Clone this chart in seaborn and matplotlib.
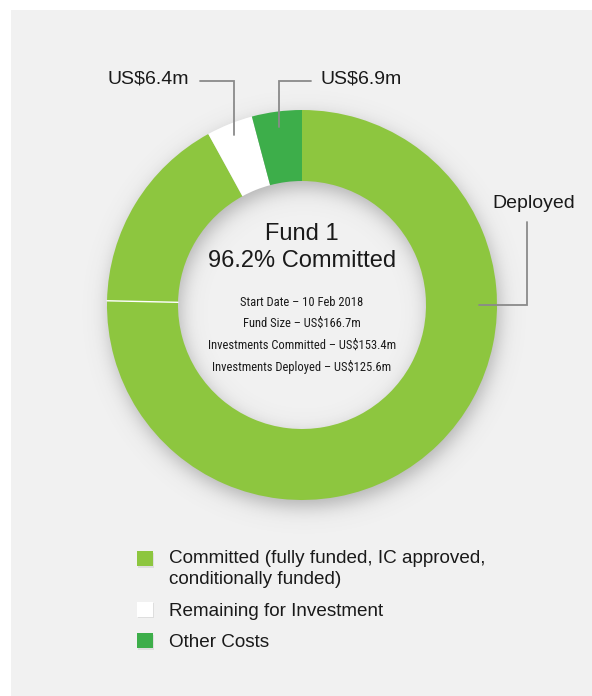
import numpy as np
import matplotlib
matplotlib.use("Agg")
import matplotlib.pyplot as plt
import matplotlib.patheffects as pe
import seaborn as sns
from matplotlib.patches import Rectangle, Patch
from matplotlib.legend_handler import HandlerPatch

# ---- fund figures (US$ millions) ----
fund_name = "Fund 1"
start_date = "10 Feb 2018"
fund_size = 166.7
committed = 153.4
deployed = 125.6
remaining = 6.4
other_costs = 6.9

segment_names = ["Deployed", "Committed, not yet deployed",
                 "Remaining for Investment", "Other Costs"]
segment_values = [deployed, committed - deployed, remaining, other_costs]
legend_labels = ["Committed (fully funded, IC approved,\nconditionally funded)",
                 "Remaining for Investment", "Other Costs"]

LIGHT_GREEN = "#8DC63F"
DARK_GREEN = "#3DAE4A"
PANEL = "#F1F1F1"
INK = "#1A1A1A"
LEADER = "#8A8A8A"
segment_colors = [LIGHT_GREEN, LIGHT_GREEN, "#FFFFFF", DARK_GREEN]
legend_colors = [LIGHT_GREEN, "#FFFFFF", DARK_GREEN]

sns.set_theme(style="white")
plt.rcParams["font.family"] = ["Liberation Sans", "DejaVu Sans"]

W, H, DPI = 592, 696, 100
CX, CY, R = 302, 305, 195          # ring centre and radius in pixels
HOLE = 124 / 195                    # inner radius relative to outer

fig = plt.figure(figsize=(W / DPI, H / DPI), dpi=DPI, facecolor="white")
fig.patches.append(Rectangle((11 / W, 0), 1 - 11 / W, 1 - 10 / H,
                             transform=fig.transFigure, facecolor=PANEL,
                             edgecolor="none", zorder=-10))

ax = fig.add_axes([0, 0, 1, 1])


def px(x, y):
    """pixel position -> data position"""
    return (x - CX) / R, (CY - y) / R


wedges, _ = ax.pie(segment_values, colors=segment_colors, startangle=90,
                   counterclock=False, radius=1.0,
                   wedgeprops=dict(width=1 - HOLE, linewidth=0, edgecolor="none"))
for w in wedges:
    w.set_zorder(2)

# soft drop shadow under the ring
gx = np.linspace(-1.4, 1.4, 600)
gy = np.linspace(-1.4, 1.4, 600)
XX, YY = np.meshgrid(gx, gy)
rr = np.hypot(XX - 0.012, YY + 0.035)
sig = lambda z: 1 / (1 + np.exp(-z))
soft = 0.03
shade = sig((1.0 - rr) / soft) * sig((rr - HOLE) / soft)
rgba = np.zeros(XX.shape + (4,))
rgba[..., :3] = 0.35
rgba[..., 3] = 0.42 * shade
ax.imshow(rgba, extent=(-1.4, 1.4, -1.4, 1.4), origin="lower",
          zorder=0, interpolation="bilinear")

# pie() and imshow() reset the limits, so fix the frame afterwards
ax.set_xlim(-CX / R, (W - CX) / R)
ax.set_ylim(-(H - CY) / R, CY / R)
ax.set_aspect("equal")
ax.axis("off")
ax.patch.set_alpha(0)

# boundary angles of each segment (degrees, standard orientation)
cum = np.concatenate([[0], np.cumsum(segment_values)])
theta = 90 - cum / cum[-1] * 360


def on_ring(angle_deg, r):
    a = np.deg2rad(angle_deg)
    return r * np.cos(a), r * np.sin(a)


# thin white divider between deployed and undeployed commitments
d0 = on_ring(theta[1], HOLE)
d1 = on_ring(theta[1], 1.0)
ax.plot([d0[0], d1[0]], [d0[1], d1[1]], color="white", lw=1.0, zorder=3)

# ---- leader lines and callouts ----
mid_rem = (theta[2] + theta[3]) / 2
mid_oth = (theta[3] + theta[4]) / 2

ex, ey = on_ring(mid_rem, 0.94)
sx, sy = px(200, 81)
ax.plot([sx, ex, ex], [sy, sy, ey], color=LEADER, lw=1.3, zorder=4,
        solid_joinstyle="miter")
tx, ty = px(189, 79)
ax.text(tx, ty, f"US${remaining}m", ha="right", va="center",
        fontsize=14, color=INK)

ex, ey = on_ring(mid_oth, 0.92)
sx, sy = px(311, 81)
ax.plot([sx, ex, ex], [sy, sy, ey], color=LEADER, lw=1.3, zorder=4,
        solid_joinstyle="miter")
tx, ty = px(321, 79)
ax.text(tx, ty, f"US${other_costs}m", ha="left", va="center",
        fontsize=14, color=INK)

ex, ey = on_ring(0.0, 0.91)
sx, sy = px(527, 222)
ax.plot([sx, sx, ex], [sy, ey, ey], color=LEADER, lw=1.3, zorder=4,
        solid_joinstyle="miter")
tx, ty = px(534, 203)
ax.text(tx, ty, "Deployed", ha="center", va="center", fontsize=14, color=INK)

# ---- centre summary ----
pct = (committed + other_costs) / fund_size * 100
ax.text(*px(CX, 234), fund_name, ha="center", va="center", fontsize=17, color=INK)
ax.text(*px(CX, 261), f"{pct:.1f}% Committed", ha="center", va="center",
        fontsize=17, color=INK)

detail_lines = [f"Start Date \u2013 {start_date}",
                f"Fund Size \u2013 US${fund_size}m",
                f"Investments Committed \u2013 US${committed}m",
                f"Investments Deployed \u2013 US${deployed}m"]
narrow = ["Roboto Condensed", "Liberation Sans Narrow", "Liberation Sans", "DejaVu Sans"]
for i, line in enumerate(detail_lines):
    ax.text(*px(CX, 302 + i * 21.7), line, ha="center", va="center",
            fontsize=9.0, color=INK, family=narrow)


# ---- legend ----
class TopAlignedSquare(HandlerPatch):
    """Square key raised to sit beside the first line of a wrapped label."""

    def __init__(self, lift, **kw):
        super().__init__(**kw)
        self.lift = lift

    def create_artists(self, legend, orig_handle, xdescent, ydescent,
                       width, height, fontsize, trans):
        p = Rectangle((-xdescent, -ydescent + self.lift), width, height)
        self.update_prop(p, orig_handle, legend)
        p.set_transform(trans)
        return [p]


handles = [Patch(facecolor=c, edgecolor="none") for c in legend_colors]
leg = fig.legend(handles, legend_labels, loc="upper left",
                 bbox_to_anchor=(137 / W, 1 - 550 / H), frameon=False,
                 fontsize=13.6, handlelength=0.85, handleheight=0.85,
                 handletextpad=0.85, labelspacing=0.72, borderpad=0,
                 borderaxespad=0, labelcolor=INK,
                 handler_map={handles[0]: TopAlignedSquare(lift=7.5)})
for t in leg.get_texts():
    t.set_linespacing(1.3)
for h in leg.legend_handles:
    h.set_path_effects([pe.SimplePatchShadow(offset=(1.0, -1.2), alpha=0.08,
                                             shadow_rgbFace="black"),
                        pe.Normal()])

fig.savefig("out.png", dpi=DPI, facecolor="white")
